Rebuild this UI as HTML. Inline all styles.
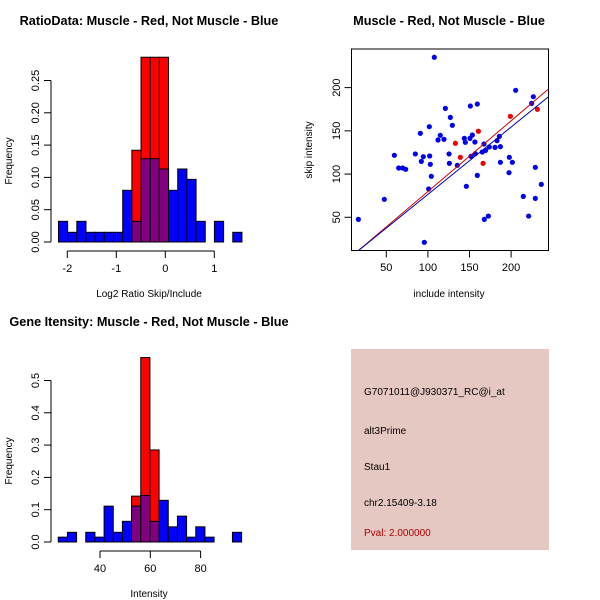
<!DOCTYPE html>
<html><head><meta charset="utf-8"><style>
body{margin:0;background:#fff;}
svg{display:block;font-family:"Liberation Sans",sans-serif;}
</style></head><body>
<svg id="c" width="600" height="600" viewBox="0 0 600 600"></svg>
<script>
// Ratio histogram
const ratioBinStart = -2.18, ratioBinWidth = 0.1872;
const ratioBlue = [0.032,0.015,0.032,0.015,0.015,0.015,0.015,0.08,0.032,0.129,0.129,0.113,0.08,0.113,0.097,0.032,0,0.032,0,0.015];
const ratioRed  = [0,0,0,0,0,0,0,0,0.142,0.286,0.286,0.286,0,0,0,0,0,0,0,0];
const ratioYTicks = [0,0.05,0.10,0.15,0.20,0.25];
const ratioYLabels = ["0.00","0.05","0.10","0.15","0.20","0.25"];
const ratioXTicks = [-2,-1,0,1];
// Intensity histogram
const intBinStart = 23.4, intBinWidth = 3.645;
const intBlue = [0.015,0.03,0,0.03,0.015,0.111,0.03,0.064,0.111,0.144,0.064,0.129,0.047,0.08,0.015,0.047,0.015,0,0,0.03];
const intRed  = [0,0,0,0,0,0,0,0,0.142,0.571,0.285,0,0,0,0,0,0,0,0,0];
const intYTicks = [0,0.1,0.2,0.3,0.4,0.5];
const intYLabels = ["0.0","0.1","0.2","0.3","0.4","0.5"];
const intXTicks = [40,60,80];
// Scatter
const blueX = [16.4,47.6,59.7,64.9,69.7,73.3,84.9,90.9,92.1,94.5,95.7,100.9,101.7,102.1,102.9,104.1,107.7,112.1,114.9,119.3,121,125.4,125.8,127,129.4,135.4,143.8,145,146.2,150.6,151,151.8,153.4,156.5,157,159.4,159.4,165.4,167.4,167.8,169.4,172.7,173.8,180.7,183.1,185.9,187.1,187.1,197.9,197.5,201.5,205.5,214.7,221.1,224.7,226.7,229.1,229.1,236.3];
const blueY = [47.6,70.8,121.7,107,107,105.5,123.3,147.1,114.7,120.1,21,82.7,154.8,120.9,111.3,97.4,235.1,139.4,144.8,140.2,176,123.3,112.4,165.6,156.4,110.1,141.3,136.7,85.8,141.3,178.7,120.5,145.2,137.1,123.6,181,98.5,125.5,134.8,47.6,127.4,51.4,131.3,130.9,138.6,143.6,131.7,113.6,119.4,101.6,113.6,196.9,74.2,51.4,181.8,189.5,107.8,71.9,88.1];
const redX = [133,139,160.7,166.3,199.1,231.6];
const redY = [135.6,119.4,149.5,112.4,166.8,175];
const redFit = [-2.0,0.818];
const blueFit = [-1.4,0.779];
const scXTicks = [50,100,150,200];
const scYTicks = [50,100,150,200];

const svg = document.getElementById('c');
const NS = 'http://www.w3.org/2000/svg';
function mk(tag, attrs, parent){const e=document.createElementNS(NS,tag);for(const k in attrs)e.setAttribute(k,attrs[k]);(parent||svg).appendChild(e);return e;}
function txt(x,y,s,attrs){const e=mk('text',Object.assign({x:x,y:y},attrs||{}));e.textContent=s;return e;}

// titles
let t;
t=txt(149,25,"RatioData: Muscle - Red, Not Muscle - Blue",{'text-anchor':'middle','font-size':'12.7','font-weight':'bold'});

t=txt(449,25,"Muscle - Red, Not Muscle - Blue",{'text-anchor':'middle','font-size':'12.7','font-weight':'bold'});

t=txt(149,326,"Gene Itensity: Muscle - Red, Not Muscle - Blue",{'text-anchor':'middle','font-size':'12.7','font-weight':'bold'});


function hist(o){
  const g=mk('g',{});
  
  
  const sx=v=>o.x0+(v-o.dx0)*o.kx, sy=v=>o.y0-v*o.ky;
  for(let i=0;i<o.blue.length;i++){
    const a=sx(o.start+i*o.w), b=sx(o.start+(i+1)*o.w);
    const bl=o.blue[i], rd=o.red[i];
    const mx=Math.max(bl,rd), mn=Math.min(bl,rd);
    if(mx<=0) continue;
    const col = rd>bl ? '#ff0000' : '#0000ff';
    let r=mk('rect',{x:a,y:sy(mx),width:b-a,height:sy(0)-sy(mx),fill:col,stroke:'#000','stroke-width':1},g);
    
    
    if(mn>0){
      r=mk('rect',{x:a,y:sy(mn),width:b-a,height:sy(0)-sy(mn),fill:'#800080',stroke:'#000','stroke-width':1},g);
      
      
    }
  }
  const yt=o.yTicks;
  mk('line',{x1:51,x2:51,y1:sy(yt[0]),y2:sy(yt[yt.length-1]),stroke:'#000'},g);
  yt.forEach((v,i)=>{
    mk('line',{x1:44,x2:51,y1:sy(v),y2:sy(v),stroke:'#000'},g);
    const l=txt(39,sy(v),o.yLabels[i],{'font-size':'11','text-anchor':'middle',transform:'rotate(-90 39 '+sy(v)+')'});
    
    
  });
  const xt=o.xTicks, ya=o.y0+9;
  mk('line',{x1:sx(xt[0]),x2:sx(xt[xt.length-1]),y1:ya,y2:ya,stroke:'#000'},g);
  xt.forEach(v=>{
    mk('line',{x1:sx(v),x2:sx(v),y1:ya,y2:ya+7,stroke:'#000'},g);
    const l=txt(sx(v),ya+21,String(v),{'font-size':'11','text-anchor':'middle'});
    
    
  });
  let l=txt(149,o.y0+55,o.xlab,{'font-size':'10','text-anchor':'middle'});
  
  const cy=o.y0-81;
  l=txt(12,cy,'Frequency',{'font-size':'10','text-anchor':'middle',transform:'rotate(-90 12 '+cy+')'});
  
}
hist({name:'ratio-histogram',blue:ratioBlue,red:ratioRed,start:ratioBinStart,w:ratioBinWidth,x0:165.3,dx0:0,kx:49,y0:242,ky:646,yTicks:ratioYTicks,yLabels:ratioYLabels,xTicks:ratioXTicks,xlab:'Log2 Ratio Skip/Include'});
hist({name:'intensity-histogram',blue:intBlue,red:intRed,start:intBinStart,w:intBinWidth,x0:150.3,dx0:60,kx:2.515,y0:542,ky:323,yTicks:intYTicks,yLabels:intYLabels,xTicks:intXTicks,xlab:'Intensity'});

// scatter
const sg=mk('g',{});


const px=v=>344.7+v*0.832, py=v=>260.5-v*0.8644;
mk('rect',{x:351.5,y:49,width:197,height:201.5,fill:'none',stroke:'#000'},sg);
const clip=mk('clipPath',{id:'sc'},sg);
mk('rect',{x:351.5,y:49,width:197,height:201.5},clip);
function fitLine(f,col,name){
  const l=mk('line',{x1:px(0),y1:py(f[0]),x2:px(260),y2:py(f[0]+f[1]*260),stroke:col,'stroke-width':1,'clip-path':'url(#sc)'},sg);
  
}
blueX.forEach((x,i)=>{
  const c=mk('circle',{cx:px(x),cy:py(blueY[i]),r:2.6,fill:'#0000ee'},sg);
  
  
});
redX.forEach((x,i)=>{
  const c=mk('circle',{cx:px(x),cy:py(redY[i]),r:2.6,fill:'#ee0000'},sg);
  
  
});
fitLine(redFit,'#cc0000','fit-line-red');
fitLine(blueFit,'#0000aa','fit-line-blue');
scXTicks.forEach(v=>{
  mk('line',{x1:px(v),x2:px(v),y1:250.5,y2:257.5,stroke:'#000'},sg);
  const l=txt(px(v),271,String(v),{'font-size':'11','text-anchor':'middle'});
  
});
scYTicks.forEach(v=>{
  mk('line',{x1:344.5,x2:351.5,y1:py(v),y2:py(v),stroke:'#000'},sg);
  const l=txt(340,py(v),String(v),{'font-size':'11','text-anchor':'middle',transform:'rotate(-90 340 '+py(v)+')'});
  
});
let l=txt(449,297,'include intensity',{'font-size':'10','text-anchor':'middle'});

l=txt(312,150,'skip intensity',{'font-size':'10','text-anchor':'middle',transform:'rotate(-90 312 150)'});


// info panel
const ig=mk('g',{});


mk('rect',{x:351,y:349,width:198,height:201,fill:'#e6c8c2'},ig);
const lines=[['G7071011@J930371_RC@i_at',395,'#000','probe-id'],['alt3Prime',434,'#000','event-type'],['Stau1',470,'#000','gene-name'],['chr2.15409-3.18',506,'#000','location'],['Pval: 2.000000',536,'#aa0000','pvalue']];
lines.forEach(a=>{
  const e=txt(364,a[1],a[0],{'font-size':'10',fill:a[2]});
  e.parentNode.removeChild(e);ig.appendChild(e);
  
  
});
</script>
</body></html>
